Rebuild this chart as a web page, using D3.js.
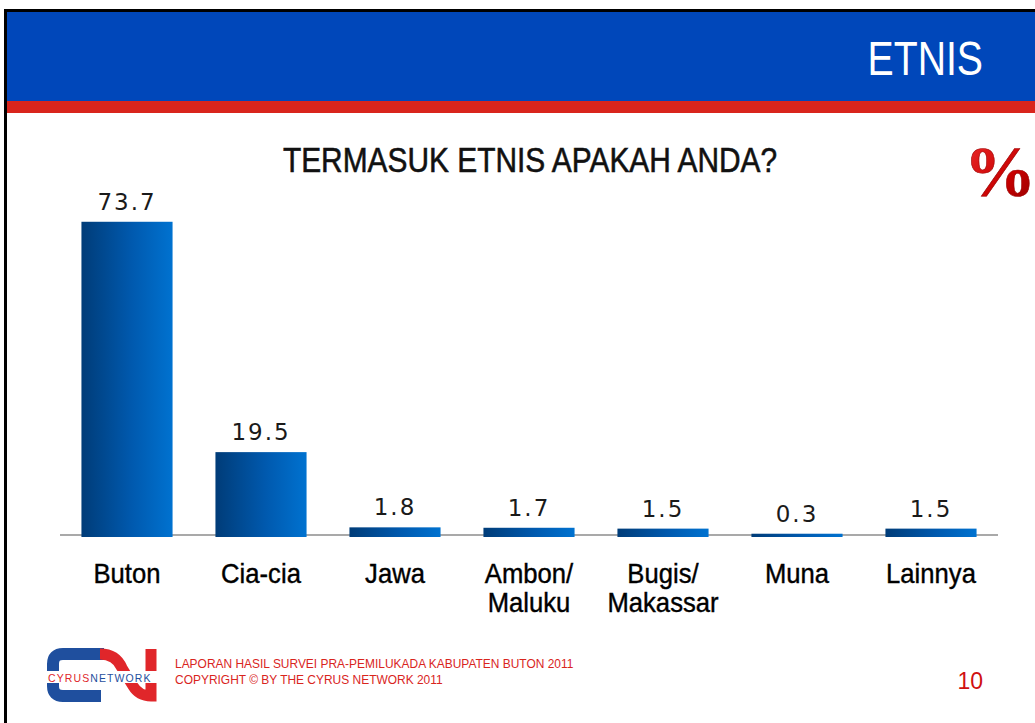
<!DOCTYPE html>
<html>
<head>
<meta charset="utf-8">
<script src="https://cdn.jsdelivr.net/npm/d3@7"></script>
<style>
  html, body { margin: 0; padding: 0; background: #fff; }
  svg { display: block; }
</style>
</head>
<body>
<svg id="chart" width="1035" height="723"></svg>
<script>
// ---- data ----
const categories = ["Buton", "Cia-cia", "Jawa", "Ambon/\nMaluku", "Bugis/\nMakassar", "Muna", "Lainnya"];
const values = [73.7, 19.5, 1.8, 1.7, 1.5, 0.3, 1.5];
const valueLabels = ["73.7", "19.5", "1.8", "1.7", "1.5", "0.3", "1.5"];
const headerTitle = "ETNIS";
const chartTitle = "TERMASUK ETNIS APAKAH ANDA?";
const footerLines = ["LAPORAN HASIL SURVEI PRA-PEMILUKADA KABUPATEN BUTON 2011", "COPYRIGHT © BY THE CYRUS NETWORK 2011"];
const pageNumber = "10";

const svg = d3.select("#chart");
const W = 1035, H = 723;
const sans = "'Liberation Sans', Arial, sans-serif";

const defs = svg.append("defs");
const grad = defs.append("linearGradient").attr("id", "barGrad").attr("x1", "0%").attr("x2", "100%").attr("y1", "0%").attr("y2", "0%");
grad.append("stop").attr("offset", "0%").attr("stop-color", "#003C78");
grad.append("stop").attr("offset", "55%").attr("stop-color", "#0059AE");
grad.append("stop").attr("offset", "100%").attr("stop-color", "#0072D0");
const pg = defs.append("linearGradient").attr("id", "pctGrad").attr("x1", "0%").attr("x2", "100%").attr("y1", "0%").attr("y2", "100%");
pg.append("stop").attr("offset", "0%").attr("stop-color", "#F03030");
pg.append("stop").attr("offset", "60%").attr("stop-color", "#C80000");
pg.append("stop").attr("offset", "100%").attr("stop-color", "#8A0000");

// condensed text helper (horizontal scale about the anchor point)
function ctext(parent, x, y, sx, txt) {
  return parent.append("text").attr("transform", `translate(${x},${y}) scale(${sx},1)`).text(txt);
}

// ---- frame & header ----
svg.append("rect").attr("x", 0).attr("y", 0).attr("width", W).attr("height", H).attr("fill", "#fff");
svg.append("rect").attr("x", 6).attr("y", 12).attr("width", W - 6).attr("height", 89).attr("fill", "#0047BA");
svg.append("rect").attr("x", 6).attr("y", 101).attr("width", W - 6).attr("height", 12).attr("fill", "#D9251D");
svg.append("line").attr("x1", 4).attr("x2", W).attr("y1", 10.5).attr("y2", 10.5).attr("stroke", "#000").attr("stroke-width", 3);
svg.append("line").attr("x1", 5.5).attr("x2", 5.5).attr("y1", 9).attr("y2", H).attr("stroke", "#000").attr("stroke-width", 3);

ctext(svg, 983, 75, 0.8, headerTitle).attr("text-anchor", "end")
  .attr("font-family", sans).attr("font-size", 49).attr("fill", "#fff");

ctext(svg, 530, 172, 0.83, chartTitle).attr("text-anchor", "middle")
  .attr("font-family", sans).attr("font-size", 36).attr("fill", "#111")
  .attr("stroke", "#111").attr("stroke-width", 0.6);

svg.append("text").attr("x", 1000).attr("y", 196).attr("text-anchor", "middle")
  .attr("font-family", "'Liberation Serif', 'Times New Roman', serif").attr("font-weight", "bold")
  .attr("font-size", 72).attr("fill", "url(#pctGrad)").attr("stroke", "#900").attr("stroke-width", 0.6).text("%");

// ---- scales ----
const x = d3.scaleBand().domain(categories).range([60, 998]).paddingInner(0.32).paddingOuter(0.16);
const y = d3.scaleLinear().domain([0, 80]).range([535, 195]);

// axis baseline
svg.append("line").attr("x1", 60).attr("x2", 998).attr("y1", y(0)).attr("y2", y(0))
  .attr("stroke", "#8c8c8c").attr("stroke-width", 1.5);

const data = categories.map((c, i) => ({ c, v: values[i], l: valueLabels[i] }));

svg.append("g").selectAll("rect").data(data).join("rect")
  .attr("x", d => x(d.c)).attr("width", x.bandwidth())
  .attr("y", d => y(d.v)).attr("height", d => y(0) - y(d.v) + 2)
  .attr("fill", "url(#barGrad)");

svg.append("g").selectAll("text").data(data).join("text")
  .attr("x", d => x(d.c) + x.bandwidth() / 2).attr("y", d => y(d.v) - 12)
  .attr("text-anchor", "middle").attr("font-family", "'DejaVu Sans', Verdana, sans-serif")
  .attr("font-size", 23).attr("letter-spacing", 2).attr("fill", "#1a1a1a").text(d => d.l);

// category labels
const catG = svg.append("g");
data.forEach(d => {
  const cx = x(d.c) + x.bandwidth() / 2;
  d.c.split("\n").forEach((line, i) => {
    ctext(catG, cx, 583 + i * 29, 0.95, line).attr("text-anchor", "middle")
      .attr("font-family", sans).attr("font-size", 27).attr("fill", "#000")
      .attr("stroke", "#000").attr("stroke-width", 0.4);
  });
});

// ---- footer ----
const logo = svg.append("g");
logo.append("path").attr("d", "M104 654 H63 Q53 654 53 664 V686 Q53 696 63 696 H101")
  .attr("fill", "none").attr("stroke", "#1F4F9E").attr("stroke-width", 12);
logo.append("path").attr("d", "M100 654 Q116 654 122 668 L133 686 Q139 696 151 696 V649")
  .attr("fill", "none").attr("stroke", "#E0262A").attr("stroke-width", 11);
logo.append("rect").attr("x", 47).attr("y", 671).attr("width", 116).attr("height", 12).attr("fill", "#fff");
const lt = logo.append("text").attr("x", 48).attr("y", 681.5).attr("font-family", sans)
  .attr("font-size", 10.5).attr("letter-spacing", 1.1);
lt.append("tspan").attr("fill", "#E0262A").text("CYRUS");
lt.append("tspan").attr("fill", "#1F4F9E").text("NETWORK");

footerLines.forEach((t, i) => {
  ctext(svg, 175, 668 + i * 16, 0.92, t).attr("font-family", sans).attr("font-size", 13).attr("fill", "#D9251D");
});

svg.append("text").attr("x", 983).attr("y", 689).attr("text-anchor", "end")
  .attr("font-family", sans).attr("font-size", 23).attr("fill", "#D01010").text(pageNumber);
</script>
</body>
</html>
